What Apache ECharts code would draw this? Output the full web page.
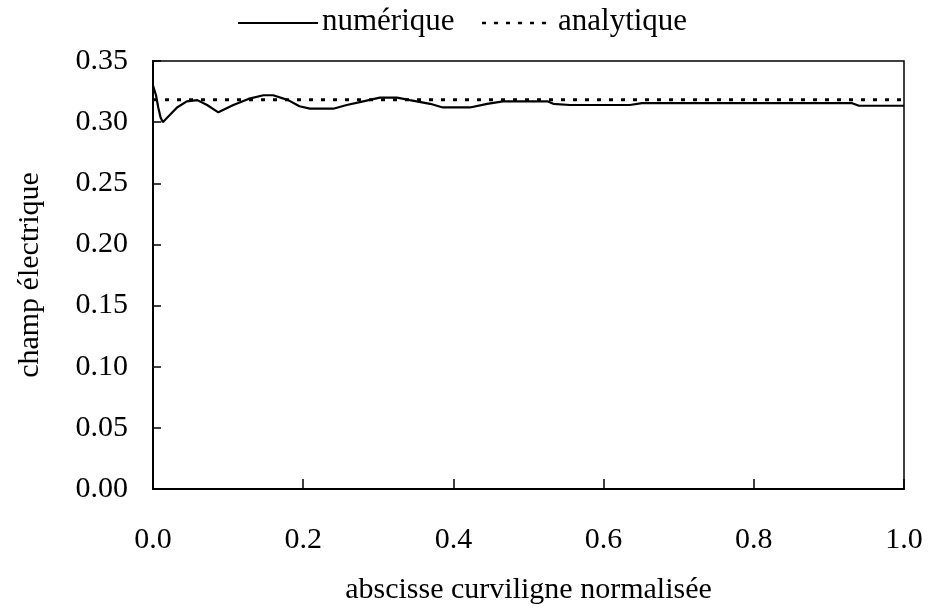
<!DOCTYPE html>
<html>
<head>
<meta charset="utf-8">
<script src="https://cdn.jsdelivr.net/npm/echarts@6/dist/echarts.min.js"></script>
<style>html,body{margin:0;padding:0;background:#fff}#c{width:930px;height:610px}</style>
</head>
<body>
<div id="c"></div>
<script>
var numX = [0.000,0.004,0.007,0.010,0.013,0.032,0.045,0.059,0.072,0.087,0.107,0.127,0.147,0.160,0.180,0.195,0.209,0.240,0.258,0.280,0.302,0.325,0.342,0.369,0.386,0.422,0.445,0.466,0.525,0.533,0.555,0.635,0.651,0.931,0.940,1.000];
var numY = [0.330,0.322,0.312,0.304,0.300,0.312,0.317,0.318,0.314,0.308,0.314,0.319,0.322,0.322,0.318,0.313,0.311,0.311,0.314,0.317,0.320,0.320,0.318,0.315,0.312,0.312,0.315,0.317,0.317,0.315,0.314,0.314,0.3155,0.3155,0.3134,0.3134];
var anaX = [0.0, 1.0];
var anaY = [0.3183, 0.3183];
var xTicks = [0.0, 0.2, 0.4, 0.6, 0.8, 1.0];
var yTicks = [0.00, 0.05, 0.10, 0.15, 0.20, 0.25, 0.30, 0.35];
var names = ['numérique', 'analytique'];
var axisTitles = ['abscisse curviligne normalisée', 'champ électrique'];

function zip(a, b) { return a.map(function (v, i) { return [v, b[i]]; }); }

var font = '"Liberation Serif", "Times New Roman", serif';
var chart = echarts.init(document.getElementById('c'), null, {renderer: 'canvas'});
chart.setOption({
  animation: false,
  backgroundColor: '#fff',
  textStyle: {fontFamily: font, color: '#000'},
  grid: {left: 153, right: 26, top: 61, bottom: 120, show: true, borderColor: '#000', borderWidth: 1.5},
  graphic: [
    {type: 'line', shape: {x1: 238, y1: 23, x2: 318, y2: 23}, style: {stroke: '#000', lineWidth: 2}},
    {type: 'text', left: 322, top: 6, style: {text: names[0], font: '31px ' + font, fill: '#000'}},
    {type: 'line', shape: {x1: 482, y1: 23, x2: 554, y2: 23}, style: {stroke: '#000', lineWidth: 2.5, lineDash: [4, 8]}},
    {type: 'text', left: 558, top: 6, style: {text: names[1], font: '31px ' + font, fill: '#000'}}
  ],
  xAxis: {
    type: 'value', min: xTicks[0], max: xTicks[xTicks.length - 1], interval: 0.2,
    name: axisTitles[0], nameLocation: 'middle', nameGap: 86,
    nameTextStyle: {fontFamily: font, fontSize: 30, color: '#000'},
    axisLine: {onZero: false, lineStyle: {color: '#000', width: 2}},
    axisTick: {inside: true, length: 10, lineStyle: {color: '#000', width: 1.5}},
    axisLabel: {margin: 36, fontFamily: font, fontSize: 30, color: '#000',
      formatter: function (v) { return v.toFixed(1); }},
    splitLine: {show: false}
  },
  yAxis: {
    type: 'value', min: yTicks[0], max: yTicks[yTicks.length - 1], interval: 0.05,
    name: axisTitles[1], nameLocation: 'middle', nameGap: 108, nameRotate: 90,
    nameTextStyle: {fontFamily: font, fontSize: 30, color: '#000'},
    axisLine: {lineStyle: {color: '#000', width: 2}},
    axisTick: {inside: true, length: 8, lineStyle: {color: '#000', width: 1.5}},
    axisLabel: {margin: 25, fontFamily: font, fontSize: 30, color: '#000',
      formatter: function (v) { return v.toFixed(2); }},
    splitLine: {show: false}
  },
  series: [
    {name: names[0], type: 'line', data: zip(numX, numY), symbol: 'none',
     lineStyle: {color: '#000', width: 2.2}, itemStyle: {color: '#000'}},
    {name: names[1], type: 'line', data: zip(anaX, anaY), symbol: 'none',
     lineStyle: {color: '#000', width: 3, type: [4, 8]}, itemStyle: {color: '#000'}}
  ]
});
</script>
</body>
</html>
